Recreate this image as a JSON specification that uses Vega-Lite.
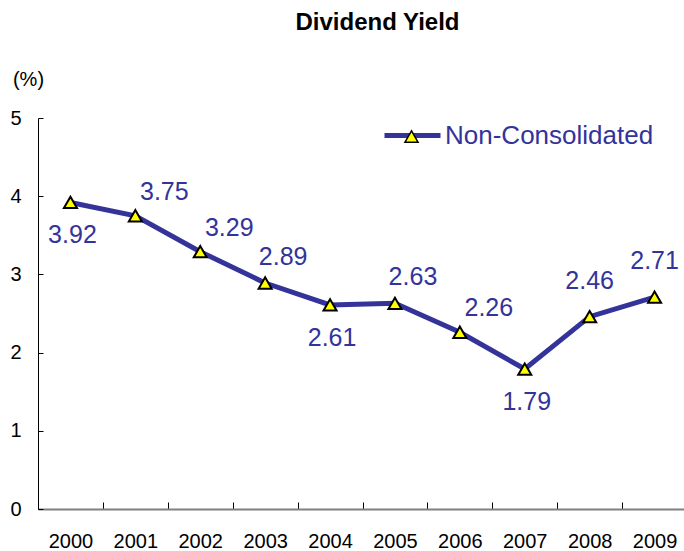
{
  "$schema": "https://vega.github.io/schema/vega-lite/v6.json",
  "autosize": "none",
  "width": 649,
  "height": 391,
  "padding": {"left": 38, "top": 118, "right": 0, "bottom": 42},
  "background": "white",
  "title": {"text": "Dividend Yield", "font": "Liberation Sans", "fontSize": 24, "fontWeight": "bold", "color": "black", "anchor": "middle", "dx": 15, "offset": 34},
  "config": {"view": {"stroke": null}, "axis": {"grid": false}},
  "data": {"values": [
    {"year": "2000", "value": 3.92, "series": "Non-Consolidated"},
    {"year": "2001", "value": 3.75, "series": "Non-Consolidated"},
    {"year": "2002", "value": 3.29, "series": "Non-Consolidated"},
    {"year": "2003", "value": 2.89, "series": "Non-Consolidated"},
    {"year": "2004", "value": 2.61, "series": "Non-Consolidated"},
    {"year": "2005", "value": 2.63, "series": "Non-Consolidated"},
    {"year": "2006", "value": 2.26, "series": "Non-Consolidated"},
    {"year": "2007", "value": 1.79, "series": "Non-Consolidated"},
    {"year": "2008", "value": 2.46, "series": "Non-Consolidated"},
    {"year": "2009", "value": 2.71, "series": "Non-Consolidated"}
  ]},
  "encoding": {
    "x": {"field": "year", "type": "ordinal", "bandPosition": 0.5,
      "scale": {"type": "band", "paddingInner": 0, "paddingOuter": 0},
      "axis": {"title": null, "labelAngle": 0, "tickBand": "extent", "tickSize": -7, "labelPadding": 29, "labelFontSize": 20, "labelFont": "Liberation Sans", "labelColor": "black", "domainColor": "#808080", "domainWidth": 2, "tickColor": "black", "tickWidth": 1}},
    "y": {"field": "value", "type": "quantitative",
      "scale": {"domain": [0, 5], "nice": false, "zero": true},
      "axis": {"title": "(%)", "titleAngle": 0, "titleX": -10, "titleY": -39, "titleAlign": "center", "titleBaseline": "middle", "titleFontSize": 20, "titleFontWeight": "normal", "titleFont": "Liberation Sans", "titleColor": "black", "values": [0, 1, 2, 3, 4, 5], "tickSize": -5, "labelPadding": 22, "labelFontSize": 20, "labelFont": "Liberation Sans", "labelColor": "black", "domainColor": "black", "tickColor": "black"}}
  },
  "layer": [
    {
      "mark": {"type": "line", "strokeWidth": 5},
      "encoding": {
        "stroke": {"field": "series", "type": "nominal", "scale": {"range": ["#333399"]},
          "legend": {"title": null, "orient": "none", "legendX": 344, "legendY": -13, "symbolType": "stroke", "symbolSize": 3136, "symbolStrokeWidth": 5, "symbolStrokeColor": "#333399", "labelFontSize": 26, "labelColor": "#333399", "labelFont": "Liberation Sans", "labelOffset": 2, "labelLimit": 0, "padding": 0, "zindex": 0}}
      }
    },
    {
      "mark": {"type": "point", "filled": true, "fill": "#ffff00", "stroke": "black", "strokeWidth": 2, "size": 170, "opacity": 1},
      "encoding": {
        "shape": {"datum": "Non-Consolidated", "type": "nominal", "scale": {"range": ["triangle-up"]},
          "legend": {"title": null, "orient": "none", "legendX": 366, "legendY": 11, "symbolSize": 170, "symbolType": "triangle-up", "labelExpr": "''", "labelFontSize": 1, "labelOffset": 0, "padding": 0, "zindex": 1,
            "encode": {"symbols": {"update": {"fill": {"value": "#ffff00"}, "stroke": {"value": "black"}, "strokeWidth": {"value": 2}, "opacity": {"value": 1}}}}}}
      }
    },
    {
      "transform": [{"filter": {"field": "year", "oneOf": ["2000", "2004", "2007"]}}],
      "mark": {"type": "text", "dx": 2, "dy": 33, "fontSize": 25, "font": "Liberation Sans", "color": "#333399", "align": "center", "baseline": "middle"},
      "encoding": {"text": {"field": "value", "type": "quantitative", "format": ".2f"}}
    },
    {
      "transform": [{"filter": {"field": "year", "oneOf": ["2001", "2002", "2006"]}}],
      "mark": {"type": "text", "dx": 29, "dy": -24, "fontSize": 25, "font": "Liberation Sans", "color": "#333399", "align": "center", "baseline": "middle"},
      "encoding": {"text": {"field": "value", "type": "quantitative", "format": ".2f"}}
    },
    {
      "transform": [{"filter": {"field": "year", "oneOf": ["2003", "2005"]}}],
      "mark": {"type": "text", "dx": 18, "dy": -26, "fontSize": 25, "font": "Liberation Sans", "color": "#333399", "align": "center", "baseline": "middle"},
      "encoding": {"text": {"field": "value", "type": "quantitative", "format": ".2f"}}
    },
    {
      "transform": [{"filter": {"field": "year", "oneOf": ["2008", "2009"]}}],
      "mark": {"type": "text", "dx": 0, "dy": -36, "fontSize": 25, "font": "Liberation Sans", "color": "#333399", "align": "center", "baseline": "middle"},
      "encoding": {"text": {"field": "value", "type": "quantitative", "format": ".2f"}}
    }
  ]
}
